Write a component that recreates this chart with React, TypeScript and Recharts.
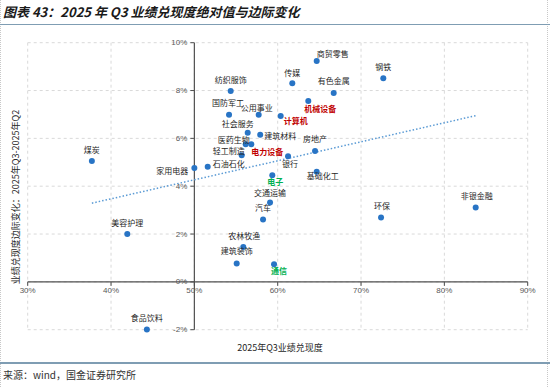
import React from 'react';
import { ScatterChart, Scatter, XAxis, YAxis, CartesianGrid, ReferenceLine, ReferenceDot } from 'recharts';

// 申万一级行业
const industries = ['煤炭', '美容护理', '食品饮料', '家用电器', '石油石化', '纺织服饰', '国防军工', '公用事业', '计算机', '社会服务', '建筑材料', '医药生物', '电力设备', '轻工制造', '银行', '房地产', '基础化工', '电子', '交通运输', '汽车', '农林牧渔', '建筑装饰', '通信', '商贸零售', '传媒', '有色金属', '机械设备', '钢铁', '环保', '非银金融'];
// 2025Q3 业绩兑现度 (%)
const q3Level = [37.7, 41.95, 44.3, 50.0, 51.6, 54.36, 54.16, 57.72, 60.36, 56.4, 57.9, 56.16, 56.83, 55.68, 61.24, 64.48, 64.68, 59.35, 59.08, 58.24, 55.87, 55.08, 59.56, 64.68, 61.75, 66.72, 63.67, 72.67, 72.4, 83.76];
// 2025Q3 - 2025Q2 边际变化 (%)
const marginalChange = [5.05, 2.0, -1.99, 4.76, 4.81, 7.98, 6.99, 6.99, 6.93, 6.23, 6.15, 5.75, 5.75, 5.29, 5.25, 5.47, 4.6, 4.46, 3.32, 2.61, 1.46, 0.77, 0.74, 9.23, 8.3, 7.9, 7.56, 8.51, 2.69, 3.11];

const xTicks = [30, 40, 50, 60, 70, 80, 90];
const yTicks = [-2, 0, 2, 4, 6, 8, 10];
// 线性趋势线两端
const trendEnds = [{ x: 37.7, y: 3.29 }, { x: 83.76, y: 6.95 }];

const points = industries.map((name, i) => ({ name, x: q3Level[i], y: marginalChange[i] }));

// label center offset from the dot, px
const labelOffset: Record<string, [number, number]> = {
    煤炭: [0, -12], 美容护理: [0, -12], 食品饮料: [0, -12], 家用电器: [-22, 2], 石油石化: [21, -3],
    纺织服饰: [0, -12], 国防军工: [-1, -12], 公用事业: [-2, -7], 计算机: [15, 4], 社会服务: [-10, -9],
    建筑材料: [20, 1], 医药生物: [-12, -5], 电力设备: [16, 7], 轻工制造: [-13, -5], 银行: [2, 7],
    房地产: [0, -13], 基础化工: [6, 4], 电子: [3, 6], 交通运输: [0, -10], 汽车: [0, -12],
    农林牧渔: [1, -11], 建筑装饰: [0, -13], 通信: [5, 6], 商贸零售: [16, -8], 传媒: [0, -11],
    有色金属: [0, -12], 机械设备: [12, 7], 钢铁: [0, -12], 环保: [1, -12], 非银金融: [1, -12],
};
const labelColor: Record<string, string> = {
    机械设备: '#C00000', 计算机: '#C00000', 电力设备: '#C00000', 电子: '#00B050', 通信: '#00B050',
};

const CJK = '"Noto Sans CJK SC", sans-serif';
const axisColor = '#505050';
const tickFont = { fontFamily: '"Liberation Sans", Arial, sans-serif', fontSize: 8, fill: '#595959' };

const Dot = (p: any) => <circle cx={p.cx} cy={p.cy} r={3} fill="#2874C5" />;

const PointLabel = (p: any) => {
    const name = p.payload.name;
    const [dx, dy] = labelOffset[name] || [0, -12];
    const color = labelColor[name];
    return (
        <text x={p.cx + dx} y={p.cy + dy} textAnchor="middle" dominantBaseline="central"
            fontFamily={CJK} fontSize={8} fontWeight={color ? 700 : 400} fill={color || '#262626'}>
            {name}
        </text>
    );
};

const XTick = (v: number) => (p: any) => (
    <g>
        <line x1={p.cx} x2={p.cx} y1={p.cy} y2={p.cy + 4} stroke={axisColor} />
        <text x={p.cx} y={p.cy + 9} textAnchor="middle" dominantBaseline="central" {...tickFont}>{v}%</text>
    </g>
);

const YTick = (v: number) => (p: any) => (
    <g>
        <line x1={p.cx - 4} x2={p.cx} y1={p.cy} y2={p.cy} stroke={axisColor} />
        <text x={p.cx - 7} y={p.cy} textAnchor="end" dominantBaseline="central" {...tickFont}>{v}%</text>
    </g>
);

const App: React.FC = () => {
    return (
        <div style={{ position: 'absolute', left: 0, top: 0, width: 550, height: 387, background: '#fff', overflow: 'hidden' }}>
            <div style={{ position: 'absolute', left: 0, top: 0, bottom: 0, borderLeft: '1px dotted #c8c8c8' }} />
            <div style={{ position: 'absolute', left: 547, top: 0, bottom: 0, borderLeft: '1px dotted #c8c8c8' }} />
            <div style={{
                position: 'absolute', left: 3, top: 3, fontFamily: CJK, fontSize: 13, fontWeight: 700,
                fontStyle: 'italic', color: '#1a1a1a', whiteSpace: 'nowrap', lineHeight: '18px'
            }}>
                图表 43：2025 年 Q3 业绩兑现度绝对值与边际变化
            </div>
            <div style={{ position: 'absolute', left: 0, width: 550, top: 23.5, height: 1.5, background: '#7f9db3' }} />
            <div style={{ position: 'absolute', left: 0, width: 550, top: 362, height: 1.5, background: '#7f9db3' }} />
            <div style={{
                position: 'absolute', left: 3, top: 368, fontFamily: CJK, fontSize: 10, color: '#333',
                whiteSpace: 'nowrap', lineHeight: '14px'
            }}>
                来源：wind，国金证券研究所
            </div>

            <ScatterChart width={550} height={387} margin={{ top: 42.7, right: 22.3, bottom: 57.3, left: 27.7 }}
                style={{ position: 'absolute', left: 0, top: 0 }}>
                <CartesianGrid stroke="#d9d9d9" strokeDasharray="3 3" />
                <XAxis type="number" dataKey="x" domain={[30, 90]} ticks={xTicks} hide />
                <YAxis type="number" dataKey="y" domain={[-2, 10]} ticks={yTicks} hide />
                <ReferenceLine y={0} stroke={axisColor} strokeWidth={1.2} />
                <ReferenceLine x={50} stroke={axisColor} strokeWidth={1.2} />
                {xTicks.map((v) => (
                    <ReferenceDot key={'x' + v} x={v} y={0} r={0} shape={XTick(v)} />
                ))}
                {yTicks.map((v) => (
                    <ReferenceDot key={'y' + v} x={50} y={v} r={0} shape={YTick(v)} />
                ))}
                <ReferenceLine segment={trendEnds} stroke="#5B9BD5" strokeWidth={1.5} strokeDasharray="1.5 2" />
                <Scatter data={points} shape={Dot} isAnimationActive={false} />
                <Scatter data={points} shape={PointLabel} isAnimationActive={false} />
            </ScatterChart>

            <div style={{
                position: 'absolute', left: 14.5, top: 197, transform: 'translate(-50%, -50%) rotate(-90deg)',
                fontFamily: CJK, fontSize: 9, color: '#262626', whiteSpace: 'nowrap'
            }}>
                业绩兑现度边际变化：2025年Q3-2025年Q2
            </div>
            <div style={{
                position: 'absolute', left: 280, top: 347, transform: 'translate(-50%, -50%)',
                fontFamily: CJK, fontSize: 9, color: '#262626', whiteSpace: 'nowrap'
            }}>
                2025年Q3业绩兑现度
            </div>
        </div>
    );
};

export default App;
